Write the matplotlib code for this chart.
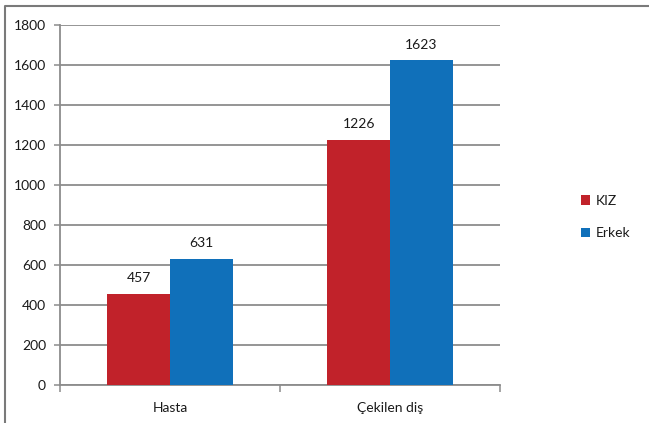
import matplotlib
matplotlib.use("Agg")
import matplotlib.pyplot as plt
from matplotlib.lines import Line2D
import numpy as np

categories = ["Hasta", "Çekilen diş"]
series_names = ["KIZ", "Erkek"]
kiz = [457, 1226]
erkek = [631, 1623]
yticks = [0, 200, 400, 600, 800, 1000, 1200, 1400, 1600, 1800]

plt.rcParams['font.family'] = ['Lato', 'DejaVu Sans']

W, H = 649, 423
fig = plt.figure(figsize=(W / 100, H / 100), dpi=100)
ax = fig.add_axes([60 / W, (H - 385) / H, 440 / W, 360 / H])

red = "#C1222A"
blue = "#1070BA"
grid_c = "#8C8C8C"
txt_c = "#1A1A1A"
bw = 0.285
x = np.arange(len(categories))

b1 = ax.bar(x - bw / 2, kiz, bw, color=red, label=series_names[0], zorder=3)
b2 = ax.bar(x + bw / 2, erkek, bw, color=blue, label=series_names[1], zorder=3)

for bars, vals in ((b1, kiz), (b2, erkek)):
    for r, v in zip(bars, vals):
        ax.annotate(str(v), (r.get_x() + r.get_width() / 2, v), xytext=(0, 7),
                    textcoords="offset points", ha="center", va="bottom",
                    fontsize=10, color=txt_c)

ax.set_xlim(-0.5, 1.5)
ax.set_ylim(0, 1800)
ax.set_yticks(yticks)
ax.set_yticklabels([str(t) for t in yticks], fontsize=10, color=txt_c)
ax.yaxis.grid(True, color=grid_c, linewidth=1.3, zorder=0)
ax.set_axisbelow(True)

ax.set_xticks([-0.5, 0.5, 1.5])
ax.set_xticklabels([])
ax.set_xticks(x, minor=True)
ax.set_xticklabels(categories, minor=True, fontsize=10, color=txt_c)
ax.tick_params(axis="x", which="minor", length=0, pad=12)
ax.tick_params(axis="x", which="major", length=5, width=1.1, color=grid_c, direction="out")
ax.tick_params(axis="y", length=4, width=1.1, color=grid_c, pad=6)

for s in ("top", "right"):
    ax.spines[s].set_visible(False)
for s in ("left", "bottom"):
    ax.spines[s].set_color(grid_c)
    ax.spines[s].set_linewidth(1.3)

leg = fig.legend(handles=[b1, b2], labels=series_names, loc="center left",
                 bbox_to_anchor=(568 / W, 1 - 217 / H), frameon=False,
                 fontsize=10, handlelength=0.7, handleheight=0.7,
                 handletextpad=0.4, labelspacing=1.5)
for t in leg.get_texts():
    t.set_color(txt_c)

fig.add_artist(Line2D([5 / W, 5 / W, 1.0], [0, 1 - 6 / H, 1 - 6 / H],
                      transform=fig.transFigure, color="#7A7A7A", linewidth=1.5))

fig.savefig("out.png", dpi=100)
